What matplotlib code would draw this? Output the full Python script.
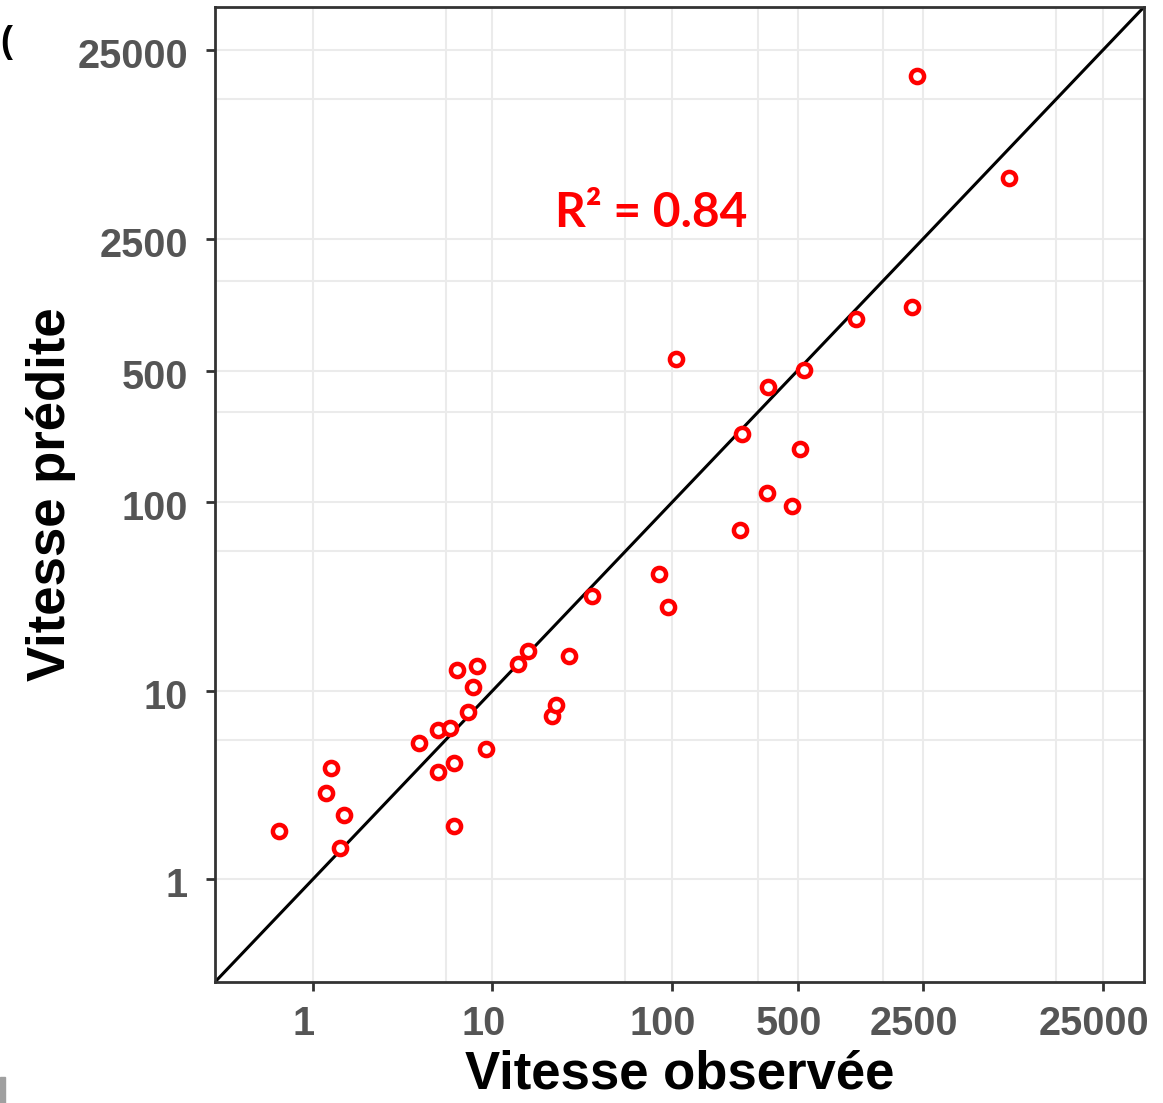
import numpy as np
import matplotlib
matplotlib.use("Agg")
import matplotlib.pyplot as plt
import matplotlib.patches as mpatches
import matplotlib.transforms as mtransforms
from matplotlib.ticker import FixedLocator, NullFormatter

observed = [0.645, 1.259, 1.181, 1.487, 1.418, 3.915, 4.993, 5.792, 4.993, 6.13,
            6.07, 6.37, 8.25, 7.84, 7.33, 9.15, 13.89, 15.79, 21.54, 22.68,
            26.54, 35.9, 105.2, 342.8, 543, 245.8, 516, 335.9, 468.4, 239.6,
            85.0, 94.6, 1056, 2174, 2317, 7547]
predicted = [1.805, 3.89, 2.874, 2.196, 1.458, 5.277, 6.166, 6.341, 3.70, 4.15,
             1.926, 12.97, 13.50, 10.44, 7.68, 4.90, 13.89, 16.36, 7.38, 8.45,
             15.39, 31.8, 575, 408, 505, 230.6, 191, 112.3, 95.8, 71.4,
             41.8, 27.8, 934.8, 1087, 18340, 5237]

breaks = [1, 10, 100, 500, 2500, 25000]
break_labels = ["1", "10", "100", "500", "2500", "25000"]
# minor grid lines sit halfway between breaks (linear midpoints)
minor_breaks = [5.5, 55, 300, 1500, 13750]
lims = (0.285, 42500)
r2_text = "R² = 0.84"

fig = plt.figure(figsize=(11.63, 11.03), dpi=100)
ax = fig.add_axes([215 / 1163, 1 - 982 / 1103, 929 / 1163, 975 / 1103])

ax.set_xscale("log")
ax.set_yscale("log")
ax.set_xlim(lims)
ax.set_ylim(lims)

grid_col = "#EBEBEB"
for b in breaks + minor_breaks:
    ax.axvline(b, color=grid_col, lw=1.5, zorder=0)
    ax.axhline(b, color=grid_col, lw=1.5, zorder=0)

# 1:1 line corner to corner
ax.plot(lims, lims, color="black", lw=2.2, zorder=2)

ax.plot(observed, predicted, linestyle="none", marker="o", ms=9.5,
        mfc="white", mec="#FF0000", mew=3.2, zorder=3)

ax.xaxis.set_major_locator(FixedLocator(breaks))
ax.yaxis.set_major_locator(FixedLocator(breaks))
ax.xaxis.set_minor_locator(FixedLocator([]))
ax.yaxis.set_minor_locator(FixedLocator([]))
ax.xaxis.set_minor_formatter(NullFormatter())
ax.yaxis.set_minor_formatter(NullFormatter())
ax.set_xticklabels(break_labels)
ax.set_yticklabels(break_labels)

for lab in ax.get_xticklabels() + ax.get_yticklabels():
    lab.set_fontfamily("Liberation Sans")
    lab.set_fontweight("bold")
    lab.set_fontsize(28.5)
    lab.set_color("#555555")
ax.tick_params(axis="both", direction="out", length=6.5, width=2, color="#333333")
ax.tick_params(axis="x", pad=10)
ax.tick_params(axis="y", pad=13)

# x tick labels sit a little left of their ticks in the original
shift_x = mtransforms.ScaledTranslation(-9 / 100, 0, fig.dpi_scale_trans)
for lab in ax.get_xticklabels():
    lab.set_transform(lab.get_transform() + shift_x)
shift_y = mtransforms.ScaledTranslation(0, -3 / 100, fig.dpi_scale_trans)
for lab in ax.get_yticklabels():
    lab.set_transform(lab.get_transform() + shift_y)

for sp in ax.spines.values():
    sp.set_color("#333333")
    sp.set_linewidth(2)

ax.set_xlabel("Vitesse observée", family="Liberation Sans", weight="bold",
              size=38, color="black", labelpad=5)
ax.set_ylabel("Vitesse prédite", family="Liberation Sans", weight="bold",
              size=38, color="black", labelpad=1)

ax.text(0.366, 0.789, r2_text, transform=ax.transAxes, ha="left", va="center",
        family="Lato", weight="bold", size=34.5, color="#FF0000", zorder=4)

# bits of the neighbouring panel that were cropped into the picture
fig.text(0.0, 1 - 42 / 1103, "(", family="Liberation Sans", weight="bold",
         size=26, color="black", va="center", ha="left")
fig.patches.append(mpatches.Rectangle((0, 0), 5 / 1163, 26 / 1103,
                                      transform=fig.transFigure,
                                      color="#A0A0A0", zorder=5))

fig.savefig("out.png", dpi=100)
